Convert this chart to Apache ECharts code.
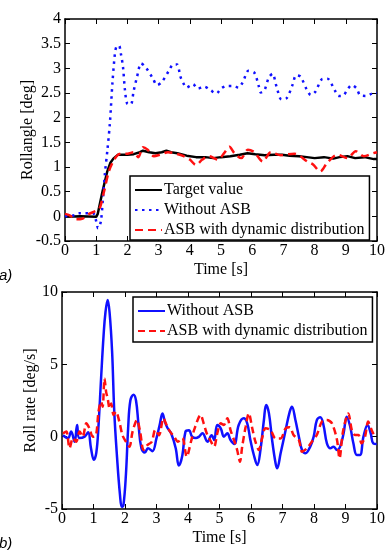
<!DOCTYPE html>
<html style="height: 100%">
<head>
    <meta charset="utf-8">
</head>
<body style="height: 100%; margin: 0; background: #fff">
    <div id="container" style="width: 388px; height: 550px"></div>
    <script src="https://cdn.jsdelivr.net/npm/echarts@6/dist/echarts.min.js"></script>
    <script>
        // (a) roll angle
        const tTarget = [0, 0.5, 1.0, 1.05, 1.2, 1.35, 1.45, 1.55, 1.7, 1.85, 2.0, 2.2, 2.4, 2.5, 2.7, 2.9, 3.1, 3.25, 3.4, 3.6, 3.9, 4.2, 4.5, 4.75, 5.0, 5.3, 5.6, 5.85, 6.1, 6.4, 6.7, 6.95, 7.2, 7.5, 7.75, 8.0, 8.3, 8.6, 8.8, 9.05, 9.3, 9.6, 9.9, 10];
        const target = [-0.01, 0, -0.01, 0.05, 0.5, 0.9, 1.08, 1.17, 1.25, 1.25, 1.25, 1.26, 1.3, 1.33, 1.3, 1.28, 1.3, 1.33, 1.3, 1.28, 1.23, 1.2, 1.2, 1.18, 1.2, 1.22, 1.25, 1.28, 1.26, 1.24, 1.25, 1.25, 1.23, 1.22, 1.2, 1.18, 1.2, 1.17, 1.2, 1.22, 1.18, 1.2, 1.16, 1.16];

        const tNoAsbA = [0, 0.3, 0.45, 0.9, 0.98, 1.06, 1.15, 1.22, 1.28, 1.36, 1.44, 1.52, 1.6, 1.65, 1.73, 1.79, 1.86, 1.92, 2.0, 2.11, 2.2, 2.31, 2.44, 2.59, 2.82, 2.95, 3.1, 3.33, 3.47, 3.59, 3.7, 3.8, 3.89, 4.1, 4.26, 4.46, 4.66, 4.85, 5.0, 5.17, 5.38, 5.56, 5.7, 5.88, 6.07, 6.21, 6.28, 6.39, 6.53, 6.65, 6.78, 6.94, 7.11, 7.29, 7.41, 7.55, 7.75, 7.88, 8.03, 8.24, 8.41, 8.65, 8.77, 8.92, 9.05, 9.19, 9.35, 9.45, 9.64, 9.85, 10];
        const noAsbA = [0, 0.02, 0.06, 0.06, -0.05, -0.24, -0.1, 0.4, 0.87, 1.35, 1.9, 2.7, 3.3, 3.44, 3.46, 3.3, 3.02, 2.57, 2.28, 2.27, 2.54, 2.83, 3.1, 3.02, 2.79, 2.66, 2.72, 2.95, 3.08, 3.08, 2.83, 2.69, 2.61, 2.68, 2.59, 2.63, 2.56, 2.49, 2.59, 2.64, 2.64, 2.61, 2.72, 2.95, 2.91, 2.64, 2.51, 2.55, 2.81, 2.89, 2.63, 2.37, 2.40, 2.66, 2.86, 2.83, 2.57, 2.46, 2.53, 2.78, 2.79, 2.55, 2.44, 2.45, 2.57, 2.66, 2.59, 2.46, 2.44, 2.49, 2.5];

        const tAsbA = [0, 0.15, 0.35, 0.55, 0.75, 0.95, 1.1, 1.25, 1.4, 1.55, 1.7, 1.85, 2.0, 2.2, 2.35, 2.5, 2.65, 2.85, 3.05, 3.3, 3.55, 3.8, 4.0, 4.2, 4.4, 4.6, 4.9, 5.1, 5.27, 5.43, 5.65, 5.86, 6.07, 6.34, 6.6, 6.92, 7.35, 7.77, 7.95, 8.18, 8.41, 8.73, 9.05, 9.32, 9.58, 9.88, 10];
        const asbA = [0.05, 0.02, -0.06, -0.05, 0.04, 0.1, 0.15, 0.5, 0.9, 1.12, 1.25, 1.27, 1.27, 1.3, 1.2, 1.4, 1.35, 1.22, 1.25, 1.3, 1.27, 1.22, 1.15, 1.04, 1.15, 1.22, 1.15, 1.28, 1.41, 1.28, 1.18, 1.35, 1.3, 1.11, 1.3, 1.24, 1.27, 1.11, 1.05, 0.91, 1.09, 1.25, 1.18, 1.32, 1.22, 1.28, 1.3];

        // (b) roll rate
        const tNoAsbB = [0.03, 0.19, 0.29, 0.4, 0.48, 0.55, 0.72, 0.83, 0.92, 1.01, 1.09, 1.16, 1.24, 1.32, 1.38, 1.45, 1.51, 1.59, 1.66, 1.75, 1.84, 1.9, 1.95, 2.03, 2.1, 2.17, 2.27, 2.35, 2.43, 2.52, 2.63, 2.73, 2.87, 3.0, 3.1, 3.19, 3.27, 3.35, 3.47, 3.61, 3.71, 3.82, 3.92, 4.03, 4.13, 4.25, 4.35, 4.46, 4.62, 4.75, 4.83, 4.93, 5.04, 5.14, 5.25, 5.35, 5.47, 5.61, 5.77, 5.88, 5.98, 6.09, 6.2, 6.3, 6.41, 6.48, 6.57, 6.67, 6.78, 6.83, 6.94, 7.1, 7.23, 7.3, 7.41, 7.52, 7.62, 7.73, 7.88, 7.99, 8.09, 8.2, 8.3, 8.41, 8.52, 8.62, 8.73, 8.83, 8.94, 9.04, 9.15, 9.25, 9.36, 9.46, 9.57, 9.7, 9.8, 9.88, 9.99];
        const noAsbB = [0.1, -0.1, 0.35, -0.35, 0.8, -0.1, 0, 0.3, -0.8, -1.6, -1.1, 0.8, 4.0, 7.0, 8.6, 9.45, 8.6, 5.9, 1.7, -1.5, -4.0, -4.85, -4.75, -2.6, 0.6, 2.5, 2.9, 2.5, 0.8, -0.8, -1.1, -0.8, -1.0, -0.1, 0.8, 1.6, 1.0, 0.6, 0.2, -0.8, -2.0, -1.3, 0.35, 0.45, 0, -0.1, 0, 0.23, -0.35, 0.1, -0.23, 0.81, 0.58, 0, 0.23, -0.23, -0.5, 0.81, 1.27, 0.92, -0.23, -1.27, -1.96, -0.92, 1.15, 2.19, 1.61, -0.23, -1.84, -2.19, -1.15, 0.46, 1.73, 2.07, 1.15, 0, -0.92, -1.15, -0.69, 0, 1.15, 1.34, 0.81, -0.46, -0.8, -0.69, -0.92, -0.69, 0.23, 1.38, 0.69, -0.46, -1.27, -1.27, 0, 0.81, 0.23, -0.46, -0.5];

        const tAsbB = [0.03, 0.14, 0.24, 0.35, 0.45, 0.56, 0.66, 0.77, 0.87, 0.98, 1.08, 1.16, 1.24, 1.29, 1.35, 1.4, 1.45, 1.51, 1.56, 1.64, 1.71, 1.82, 1.92, 2.03, 2.14, 2.24, 2.38, 2.48, 2.59, 2.71, 2.85, 2.96, 3.08, 3.22, 3.32, 3.43, 3.56, 3.68, 3.82, 3.96, 4.1, 4.2, 4.4, 4.5, 4.6, 4.72, 4.83, 4.93, 5.04, 5.14, 5.25, 5.35, 5.46, 5.56, 5.65, 5.72, 5.83, 5.93, 6.04, 6.14, 6.25, 6.35, 6.46, 6.62, 6.78, 6.94, 7.1, 7.23, 7.35, 7.52, 7.62, 7.78, 7.93, 8.09, 8.25, 8.41, 8.57, 8.73, 8.81, 8.91, 9.02, 9.09, 9.2, 9.3, 9.41, 9.51, 9.62, 9.72, 9.83, 9.93, 10];
        const asbB = [0.23, 0.35, -0.8, -0.1, -0.35, 0.35, 0, 0.92, 0.58, 0, 0.1, 1.73, 2.42, 2.07, 4.03, 3.1, 2.65, 1.96, 2.3, 1.5, 1.73, 1.04, 0.1, -0.35, -0.7, 0.35, 1.15, 0.35, -0.92, -0.58, -0.35, 0.46, 0.1, 1.27, 0.8, 0.35, 0, -0.35, -0.1, -1.38, -0.3, 0.5, 1.5, 0.9, 0.2, -0.3, -0.69, 0.23, 0.92, 0.81, 1.27, 0.46, -0.23, -0.92, -1.73, -0.69, 0.69, 1.61, 0.58, -0.35, -0.92, -0.12, 0.58, 0.46, -0.12, -0.12, 0.58, 0.65, 0.12, -0.23, -1.04, -0.8, -0.35, 0.12, 1.04, 1.15, 0.92, -0.23, -1.5, 0.23, 1.27, 1.61, 0.46, 0.12, 0.12, -0.46, 0, 1.04, 0.46, 0.12, 0.12];

        const pairs = (t, v) => t.map((x, i) => [x, v[i]]);

        const font = 'Liberation Serif';
        const fs = 16;
        const blue = '#1010ff';
        const red = '#ff1010';

        const xBase = (grid, top) => ({
            type: 'value', gridIndex: grid, min: 0, max: 10, interval: 1,
            position: top ? 'top' : 'bottom',
            name: top ? '' : 'Time [s]',
            nameLocation: 'middle', nameGap: 21, nameMoveOverlap: false,
            nameTextStyle: { fontFamily: font, fontSize: fs, color: '#000' },
            axisLine: { show: true, onZero: false, lineStyle: { color: '#000', width: 1.5 } },
            axisTick: { show: true, inside: true, length: 5, lineStyle: { color: '#000' } },
            axisLabel: { show: !top, margin: 2, fontFamily: font, fontSize: fs, color: '#000' },
            splitLine: { show: false }
        });
        const yBase = (grid, right, min, max, interval, name, gap) => ({
            type: 'value', gridIndex: grid, min: min, max: max, interval: interval,
            position: right ? 'right' : 'left',
            name: right ? '' : name,
            nameLocation: 'middle', nameGap: gap, nameMoveOverlap: false,
            nameTextStyle: { fontFamily: font, fontSize: fs, color: '#000' },
            axisLine: { show: true, onZero: false, lineStyle: { color: '#000', width: 1.5 } },
            axisTick: { show: true, inside: true, length: 5, lineStyle: { color: '#000' } },
            axisLabel: { show: !right, margin: 4, fontFamily: font, fontSize: fs, color: '#000' },
            splitLine: { show: false }
        });

        const legendBase = {
            orient: 'vertical',
            backgroundColor: '#fff',
            borderColor: '#000',
            borderWidth: 1.5,
            borderRadius: 0,
            itemWidth: 27,
            itemHeight: 16,
            itemGap: 4,
            z: 10,
            itemStyle: { opacity: 0 },
            textStyle: { fontFamily: font, fontSize: fs, color: '#000', padding: [0, 0, 0, -3] },
            formatter: name => name.replace(' (b)', '')
        };

        const myChart = echarts.init(document.getElementById('container'));
        myChart.setOption({
            animation: false,
            grid: [
                { left: 65, top: 19, width: 313, height: 222 },
                { left: 62, top: 292, width: 317, height: 217 }
            ],
            xAxis: [xBase(0, false), xBase(0, true), xBase(1, false), xBase(1, true)],
            yAxis: [
                yBase(0, false, -0.5, 4, 0.5, 'Rollangle [deg]', 29),
                yBase(0, true, -0.5, 4, 0.5, '', 0),
                yBase(1, false, -5, 10, 5, 'Roll rate [deg/s]', 23),
                yBase(1, true, -5, 10, 5, '', 0)
            ],
            legend: [
                Object.assign({}, legendBase, {
                    left: 130, top: 176, padding: [6, 5, 2, 4],
                    data: ['Target value', 'Without ASB', 'ASB with dynamic distribution']
                }),
                Object.assign({}, legendBase, {
                    left: 133, top: 297, padding: [6, 5, 3, 4],
                    data: ['Without ASB (b)', 'ASB with dynamic distribution (b)']
                })
            ],
            series: [
                {
                    name: 'Target value', type: 'line', xAxisIndex: 0, yAxisIndex: 0,
                    data: pairs(tTarget, target), symbol: 'none',
                    lineStyle: { color: '#000', width: 2.5 }, itemStyle: { color: '#000' }
                },
                {
                    name: 'Without ASB', type: 'line', xAxisIndex: 0, yAxisIndex: 0,
                    data: pairs(tNoAsbA, noAsbA), symbol: 'none', smooth: 0.3,
                    lineStyle: { color: blue, width: 2.5, type: [2.5, 4.5] }, itemStyle: { color: blue }
                },
                {
                    name: 'ASB with dynamic distribution', type: 'line', xAxisIndex: 0, yAxisIndex: 0,
                    data: pairs(tAsbA, asbA), symbol: 'none', smooth: 0.3,
                    lineStyle: { color: red, width: 2.5, type: [8, 5] }, itemStyle: { color: red }
                },
                {
                    name: 'Without ASB (b)', type: 'line', xAxisIndex: 2, yAxisIndex: 2,
                    data: pairs(tNoAsbB, noAsbB), symbol: 'none', smooth: 0.4,
                    lineStyle: { color: blue, width: 2.5 }, itemStyle: { color: blue }
                },
                {
                    name: 'ASB with dynamic distribution (b)', type: 'line', xAxisIndex: 2, yAxisIndex: 2,
                    data: pairs(tAsbB, asbB), symbol: 'none', smooth: 0.3,
                    lineStyle: { color: red, width: 2.5, type: [7, 4] }, itemStyle: { color: red }
                }
            ],
            graphic: [
                { type: 'text', left: -1, top: 268, style: { text: 'a)', font: 'italic 15px "Liberation Sans"', fill: '#000' } },
                { type: 'text', left: -1, top: 536, style: { text: 'b)', font: 'italic 15px "Liberation Sans"', fill: '#000' } }
            ]
        });
    </script>
</body>
</html>
